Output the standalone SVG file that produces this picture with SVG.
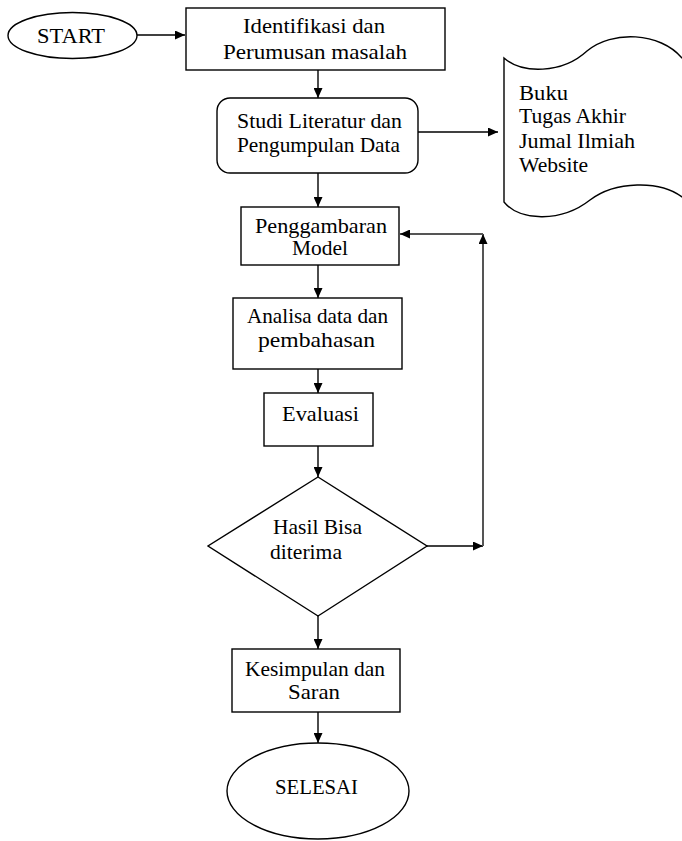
<svg xmlns="http://www.w3.org/2000/svg" width="682" height="841" viewBox="0 0 682 841">
  <style>
    .shape { fill: #ffffff; stroke: #000000; stroke-width: 1.4; }
    .conn { fill: none; stroke: #000000; stroke-width: 1.4; }
    .fb { fill: none; stroke: #555555; stroke-width: 2; }
    .t { font-family: "Liberation Serif", "Times New Roman", serif; font-size: 21px; fill: #000000; }
  </style>
  <defs>
    <marker id="ah" markerUnits="userSpaceOnUse" markerWidth="11" markerHeight="9" refX="10" refY="4.5" orient="auto">
      <path d="M0,0 L10,4.5 L0,9 z" fill="#000000"/>
    </marker>
  </defs>
  <rect width="682" height="841" fill="#ffffff"/>

  <g id="connectors">
    <line class="conn" x1="137" y1="35" x2="185" y2="35" marker-end="url(#ah)"/>
    <line class="conn" x1="318" y1="70" x2="318" y2="98" marker-end="url(#ah)"/>
    <line class="conn" x1="418" y1="132" x2="498" y2="132" marker-end="url(#ah)"/>
    <line class="conn" x1="318" y1="173" x2="318" y2="207" marker-end="url(#ah)"/>
    <line class="conn" x1="318" y1="265" x2="318" y2="298" marker-end="url(#ah)"/>
    <line class="conn" x1="318" y1="369" x2="318" y2="393" marker-end="url(#ah)"/>
    <line class="conn" x1="318" y1="446" x2="318" y2="477" marker-end="url(#ah)"/>
    <line class="conn" x1="427" y1="546" x2="483" y2="546" marker-end="url(#ah)"/>
    <line class="fb" x1="483" y1="546" x2="483" y2="234" marker-end="url(#ah)"/>
    <line class="fb" x1="483" y1="234" x2="400" y2="234" marker-end="url(#ah)"/>
    <line class="conn" x1="318" y1="616" x2="318" y2="649" marker-end="url(#ah)"/>
    <line class="conn" x1="318" y1="712" x2="318" y2="743" marker-end="url(#ah)"/>
  </g>

  <g id="start">
    <ellipse class="shape" cx="72.5" cy="35.5" rx="64.5" ry="23"/>
    <text class="t" x="37" y="43" textLength="68" lengthAdjust="spacingAndGlyphs">START</text>
  </g>

  <g id="identifikasi">
    <rect class="shape" x="186" y="8" width="259" height="62"/>
    <text class="t" x="243" y="33" textLength="142" lengthAdjust="spacingAndGlyphs">Identifikasi dan</text>
    <text class="t" x="223" y="59" textLength="184" lengthAdjust="spacingAndGlyphs">Perumusan masalah</text>
  </g>

  <g id="studi">
    <rect class="shape" x="217" y="98" width="201" height="75" rx="13" ry="13"/>
    <text class="t" x="237" y="128" textLength="165" lengthAdjust="spacingAndGlyphs">Studi Literatur dan</text>
    <text class="t" x="237" y="152" textLength="163" lengthAdjust="spacingAndGlyphs">Pengumpulan Data</text>
  </g>

  <g id="sumber">
    <path class="shape" d="M690,60 L682,58 C660,32 612,30 587,51 C562,74 522,74 504,58 L504,202 C520,222 562,222 590,200 C615,181 660,180 682,197 L690,200 Z"/>
    <text class="t" x="519" y="100" textLength="49" lengthAdjust="spacingAndGlyphs">Buku</text>
    <text class="t" x="519" y="123" textLength="107" lengthAdjust="spacingAndGlyphs">Tugas Akhir</text>
    <text class="t" x="519" y="148" textLength="116" lengthAdjust="spacingAndGlyphs">Jumal Ilmiah</text>
    <text class="t" x="519" y="172" textLength="69" lengthAdjust="spacingAndGlyphs">Website</text>
  </g>

  <g id="penggambaran">
    <rect class="shape" x="241" y="207" width="158" height="58"/>
    <text class="t" x="255" y="233" textLength="132" lengthAdjust="spacingAndGlyphs">Penggambaran</text>
    <text class="t" x="292" y="255" textLength="56" lengthAdjust="spacingAndGlyphs">Model</text>
  </g>

  <g id="analisa">
    <rect class="shape" x="233" y="298" width="169" height="71"/>
    <text class="t" x="247" y="323" textLength="141" lengthAdjust="spacingAndGlyphs">Analisa data dan</text>
    <text class="t" x="258" y="347" textLength="117" lengthAdjust="spacingAndGlyphs">pembahasan</text>
  </g>

  <g id="evaluasi">
    <rect class="shape" x="264" y="393" width="109" height="53"/>
    <text class="t" x="282" y="421" textLength="77" lengthAdjust="spacingAndGlyphs">Evaluasi</text>
  </g>

  <g id="keputusan">
    <polygon class="shape" points="318,477 427,546 318,616 208,546"/>
    <text class="t" x="273" y="534" textLength="89" lengthAdjust="spacingAndGlyphs">Hasil Bisa</text>
    <text class="t" x="270" y="559" textLength="72" lengthAdjust="spacingAndGlyphs">diterima</text>
  </g>

  <g id="kesimpulan">
    <rect class="shape" x="232" y="649" width="168" height="63"/>
    <text class="t" x="245" y="676" textLength="140" lengthAdjust="spacingAndGlyphs">Kesimpulan dan</text>
    <text class="t" x="288" y="699" textLength="52" lengthAdjust="spacingAndGlyphs">Saran</text>
  </g>

  <g id="selesai">
    <ellipse class="shape" cx="318" cy="791" rx="91" ry="48"/>
    <text class="t" x="275" y="794" textLength="83" lengthAdjust="spacingAndGlyphs">SELESAI</text>
  </g>
</svg>
